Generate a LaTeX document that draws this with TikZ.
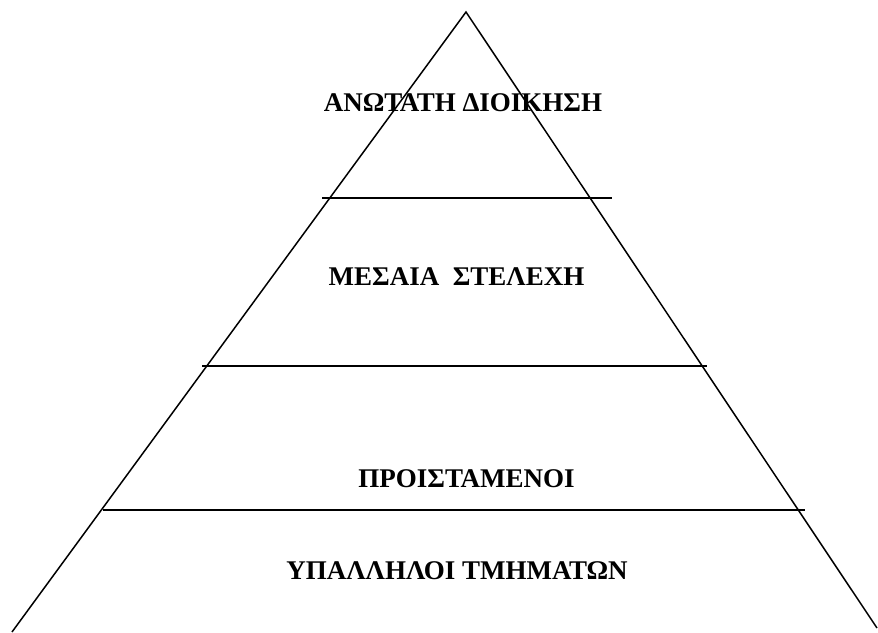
\documentclass[tikz,border=0pt]{standalone}
\usepackage{fontspec}
\setmainfont{Liberation Serif}
\begin{document}
\begin{tikzpicture}[x=1pt,y=-1pt,
  edge/.style={line width=1.5pt},
  lbl/.style={font=\bfseries\fontsize{27}{32}\selectfont, anchor=base, inner sep=0pt}]
\useasboundingbox (0,0) rectangle (878,632);
\coordinate (apex) at (466,12);
\coordinate (bl) at (12,632);
\coordinate (br) at (877,628);
\draw[edge] (bl) -- (apex) -- (br);
\coordinate (l1a) at (322,198); \coordinate (l1b) at (612,198);
\coordinate (l2a) at (202,366); \coordinate (l2b) at (707,366);
\coordinate (l3a) at (103,510); \coordinate (l3b) at (805,510);
\draw[edge] (l1a) -- (l1b);
\draw[edge] (l2a) -- (l2b);
\draw[edge] (l3a) -- (l3b);
\node[lbl] (t1) at (463,111) {ΑΝΩΤΑΤΗ ΔΙΟΙΚΗΣΗ};
\node[lbl] (t2) at (456.5,285) {ΜΕΣΑΙΑ\ \ ΣΤΕΛΕΧΗ};
\node[lbl] (t3) at (466.5,487) {ΠΡΟΙΣΤΑΜΕΝΟΙ};
\node[lbl] (t4) at (457,579) {ΥΠΑΛΛΗΛΟΙ ΤΜΗΜΑΤΩΝ};
\end{tikzpicture}
\end{document}
